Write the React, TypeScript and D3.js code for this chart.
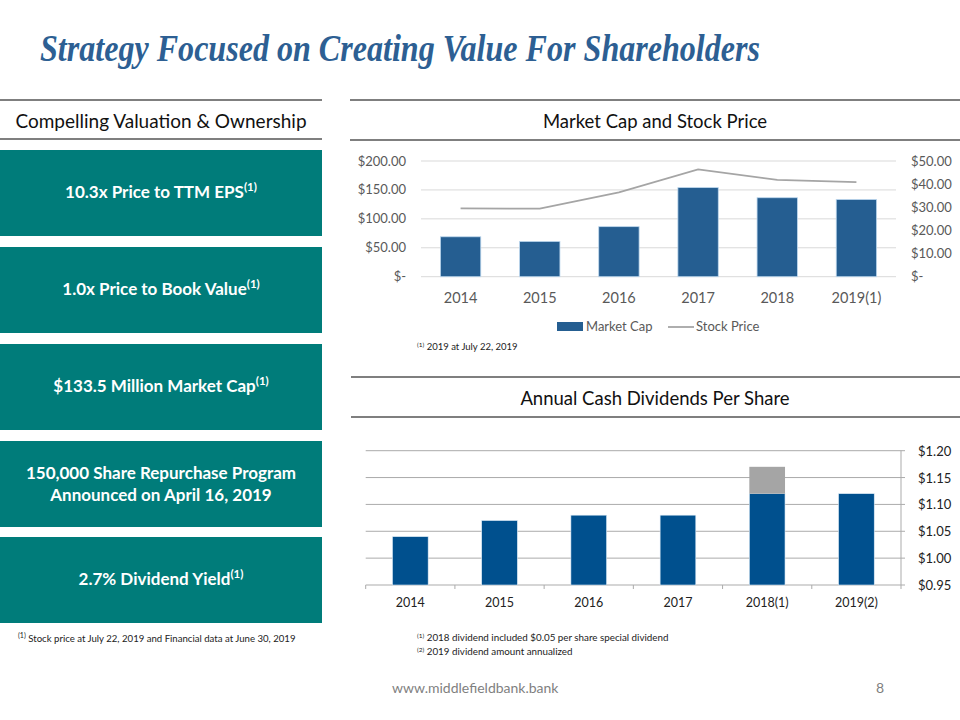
import React from "react";
import * as d3 from "d3";

const mcYears = ["2014", "2015", "2016", "2017", "2018", "2019(1)"];
const marketCap = [69, 61, 86.5, 154, 136.5, 133.5];
const stockPrice = [29.5, 29.4, 36.4, 46.4, 41.8, 40.9];
const mcLeftTicks = [0, 50, 100, 150, 200];
const mcRightTicks = [0, 10, 20, 30, 40, 50];

const divYears = ["2014", "2015", "2016", "2017", "2018(1)", "2019(2)"];
const regularDividend = [1.04, 1.07, 1.08, 1.08, 1.12, 1.12];
const specialDividend = [0, 0, 0, 0, 0.05, 0];
const divTicks = [0.95, 1.0, 1.05, 1.1, 1.15, 1.2];

const boxes = [
  ["10.3x Price to TTM EPS", true],
  ["1.0x Price to Book Value", true],
  ["$133.5 Million Market Cap", true],
  ["150,000 Share Repurchase Program|Announced on April 16, 2019", false],
  ["2.7% Dividend Yield", true],
] as [string, boolean][];

const FONT = "Lato, 'Open Sans', sans-serif";
const TEAL = "#007C7A";
const MC_BLUE = "#255E91";
const DIV_BLUE = "#00508E";
const GRAY = "#A5A5A5";
const TXT = "#595959";

const fmtMoney = (v: number) => (v === 0 ? "$-" : "$" + v.toFixed(2));

export default function App() {
  const mx = d3.scaleBand<string>().domain(mcYears).range([421, 896]).paddingInner(0.49).paddingOuter(0.245);
  const myL = d3.scaleLinear().domain([0, 200]).range([276.7, 161]);
  const myR = d3.scaleLinear().domain([0, 50]).range([276.7, 161]);
  const line = d3
    .line<number>()
    .x((_, i) => (mx(mcYears[i]) as number) + mx.bandwidth() / 2)
    .y((d) => myR(d));

  const dx = d3.scaleBand<string>().domain(divYears).range([365.7, 901]).paddingInner(0.6).paddingOuter(0.3);
  const dy = d3.scaleLinear().domain([0.95, 1.2]).range([585, 450.7]);
  const step = dx.step();
  const bandEdges = d3.range(divYears.length + 1).map((i) => 365.7 + i * step);

  const boxTops = [150, 247, 344, 441, 537];
  const boxH = 86;

  return (
    <svg
      width={960}
      height={720}
      style={{ position: "absolute", left: 0, top: 0, background: "#fff" }}
      fontFamily={FONT}
    >
      <text
        x={40}
        y={61}
        fontFamily="'Liberation Serif', 'Times New Roman', serif"
        fontStyle="italic"
        fontWeight="bold"
        fontSize={37}
        fill="#2D5F93"
        textLength={720}
        lengthAdjust="spacingAndGlyphs"
      >
        Strategy Focused on Creating Value For Shareholders
      </text>

      <line x1={0} x2={322} y1={100} y2={100} stroke="#555" strokeWidth={1.5} />
      <line x1={0} x2={322} y1={139} y2={139} stroke="#555" strokeWidth={1.5} />
      <text x={161} y={128} textAnchor="middle" fontSize={19} fill="#111">
        Compelling Valuation &amp; Ownership
      </text>
      {boxes.map(([label, sup], i) => {
        const y0 = boxTops[i];
        const lines = label.split("|");
        const cy = y0 + boxH / 2;
        return (
          <g key={i}>
            <rect x={0} y={y0} width={322} height={boxH} fill={TEAL} />
            {lines.length === 1 ? (
              <text x={161} y={cy + 5} textAnchor="middle" fill="#fff" fontWeight="bold" fontSize={17}>
                {lines[0]}
                {sup && (
                  <tspan fontSize={11.5} dy={-7}>
                    (1)
                  </tspan>
                )}
              </text>
            ) : (
              lines.map((l, j) => (
                <text
                  key={j}
                  x={161}
                  y={cy - 5 + j * 22}
                  textAnchor="middle"
                  fill="#fff"
                  fontWeight="bold"
                  fontSize={17}
                >
                  {l}
                </text>
              ))
            )}
          </g>
        );
      })}
      <text x={18} y={642} fontSize={9.6} fill="#222">
        <tspan fontSize={7} dy={-4}>(1)</tspan>
        <tspan dy={4}> Stock price at July 22, 2019 and Financial data at June 30, 2019</tspan>
      </text>

      <line x1={350} x2={960} y1={100} y2={100} stroke="#555" strokeWidth={1.5} />
      <line x1={350} x2={960} y1={140} y2={140} stroke="#555" strokeWidth={1.5} />
      <text x={655} y={128} textAnchor="middle" fontSize={18.5} fill="#111">
        Market Cap and Stock Price
      </text>
      {mcLeftTicks.map((t) => (
        <g key={"gl" + t}>
          <line x1={421} x2={896} y1={myL(t)} y2={myL(t)} stroke="#D9D9D9" strokeWidth={1} />
          <text x={406} y={myL(t) + 4.5} textAnchor="end" fontSize={13} fill={TXT}>
            {fmtMoney(t)}
          </text>
        </g>
      ))}
      {mcRightTicks.map((t) => (
        <text key={"r" + t} x={911} y={myR(t) + 4.5} fontSize={13} fill={TXT}>
          {fmtMoney(t)}
        </text>
      ))}
      {marketCap.map((v, i) => (
        <rect
          key={"mc" + i}
          x={mx(mcYears[i])}
          y={myL(v)}
          width={mx.bandwidth()}
          height={myL(0) - myL(v)}
          fill={MC_BLUE}
          stroke="#BDD7EE"
          strokeWidth={0.8}
        />
      ))}
      <path d={line(stockPrice) || ""} fill="none" stroke={GRAY} strokeWidth={1.8} />
      {mcYears.map((y) => (
        <text
          key={"mx" + y}
          x={(mx(y) as number) + mx.bandwidth() / 2}
          y={303}
          textAnchor="middle"
          fontSize={14.5}
          fill={TXT}
        >
          {y}
        </text>
      ))}
      <rect x={557} y={322} width={26} height={9} fill={MC_BLUE} />
      <text x={586} y={331} fontSize={13} fill={TXT}>
        Market Cap
      </text>
      <line x1={668} x2={694} y1={327} y2={327} stroke={GRAY} strokeWidth={1.8} />
      <text x={696} y={331} fontSize={13} fill={TXT}>
        Stock Price
      </text>
      <text x={417} y={350} fontSize={9.5} fill="#222">
        <tspan fontSize={6.5} dy={-3.5}>(1)</tspan>
        <tspan dy={3.5}> 2019 at July 22, 2019</tspan>
      </text>

      <line x1={351} x2={960} y1={377} y2={377} stroke="#555" strokeWidth={1.5} />
      <line x1={351} x2={960} y1={417} y2={417} stroke="#555" strokeWidth={1.5} />
      <text x={655} y={405} textAnchor="middle" fontSize={18.5} fill="#111">
        Annual Cash Dividends Per Share
      </text>
      {divTicks.map((t) => (
        <g key={"dg" + t}>
          <line x1={365.7} x2={901} y1={dy(t)} y2={dy(t)} stroke="#ABABAB" strokeWidth={1} />
          <line x1={901} x2={905} y1={dy(t)} y2={dy(t)} stroke="#ABABAB" strokeWidth={1} />
          <text x={918} y={dy(t) + 5} fontSize={13} fill="#222">
            {"$" + t.toFixed(2)}
          </text>
        </g>
      ))}
      <line x1={901} x2={901} y1={dy(1.2)} y2={dy(0.95)} stroke="#ABABAB" strokeWidth={1} />
      {bandEdges.map((bx, i) => (
        <line key={"dt" + i} x1={bx} x2={bx} y1={dy(0.95)} y2={dy(0.95) + 4} stroke="#ABABAB" strokeWidth={1} />
      ))}
      {regularDividend.map((v, i) => (
        <g key={"dv" + i}>
          <rect
            x={dx(divYears[i])}
            y={dy(v)}
            width={dx.bandwidth()}
            height={dy(0.95) - dy(v)}
            fill={DIV_BLUE}
            stroke="#DDEBF7"
            strokeWidth={0.6}
          />
          {specialDividend[i] > 0 && (
            <rect
              x={dx(divYears[i])}
              y={dy(v + specialDividend[i])}
              width={dx.bandwidth()}
              height={dy(v) - dy(v + specialDividend[i])}
              fill={GRAY}
            />
          )}
        </g>
      ))}
      {divYears.map((y) => (
        <text
          key={"dx" + y}
          x={(dx(y) as number) + dx.bandwidth() / 2}
          y={607}
          textAnchor="middle"
          fontSize={12.5}
          fill="#222"
        >
          {y}
        </text>
      ))}
      <text x={417} y={641} fontSize={9.8} fill="#222">
        <tspan fontSize={6.5} dy={-3.5}>(1)</tspan>
        <tspan dy={3.5}> 2018 dividend included $0.05 per share special dividend</tspan>
      </text>
      <text x={417} y={655} fontSize={9.8} fill="#222">
        <tspan fontSize={6.5} dy={-3.5}>(2)</tspan>
        <tspan dy={3.5}> 2019 dividend amount annualized</tspan>
      </text>

      <text x={392} y={693} fontSize={14} fill="#7F7F7F">
        www.middlefieldbank.bank
      </text>
      <text x={876} y={693} fontSize={14} fill="#7F7F7F">
        8
      </text>
    </svg>
  );
}
